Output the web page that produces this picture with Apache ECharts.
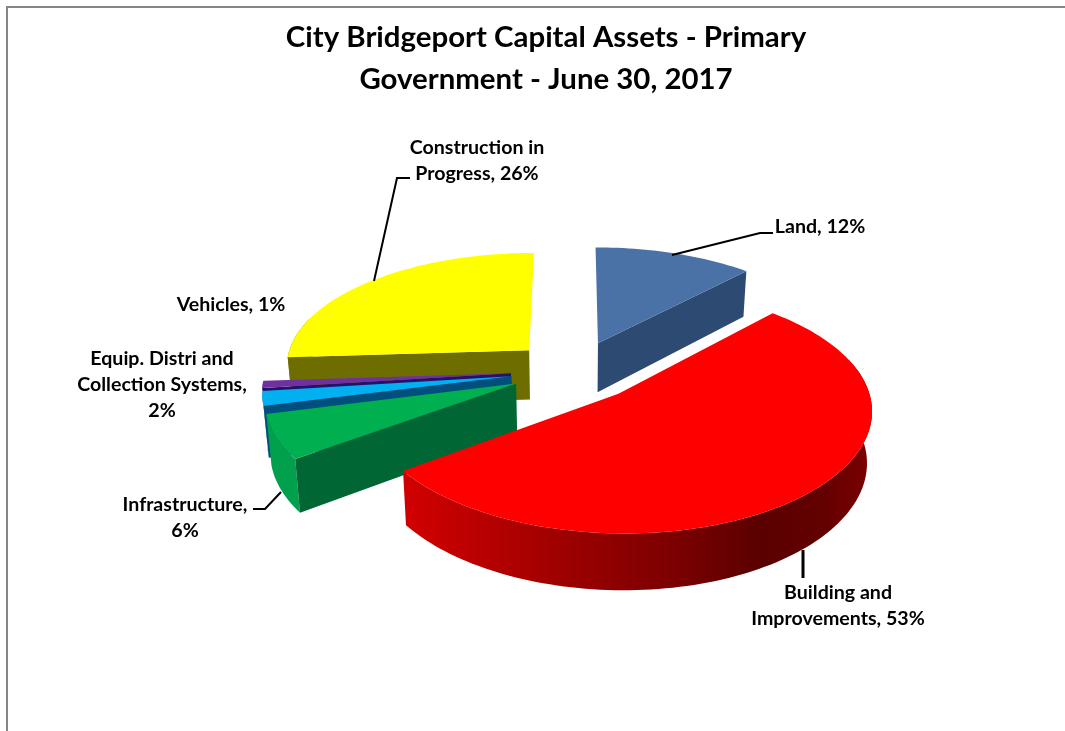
<!DOCTYPE html>
<html>
<head>
<meta charset="utf-8">
<style>html,body{margin:0;padding:0;background:#fff;overflow:hidden}#c{width:1065px;height:731px}</style>
<script src="https://cdn.jsdelivr.net/npm/echarts@6/dist/echarts.min.js"></script>
</head>
<body>
<div id="c"></div>
<script>
// ---- data ----
var categories = ['Land', 'Building and Improvements', 'Infrastructure', 'Equip. Distri and Collection Systems', 'Vehicles', 'Construction in Progress'];
var values = [12, 53, 6, 2, 1, 26];
var topColors = ['#4a72a6', '#ff0000', '#00b050', '#00b0f0', '#7030a0', '#ffff00'];
var faceColors = ['#2d4a72', '#8b0000', '#006633', '#004f7c', '#25106c', '#6e6e00'];
var wallColors = ['#2d4a72', null, '#00a04c', '#0b5a88', '#25106c', '#8a8a00'];
var labelLines = ['Land, 12%', 'Building and\nImprovements, 53%', 'Infrastructure,\n6%', 'Equip. Distri and\nCollection Systems,\n2%', 'Vehicles, 1%', 'Construction in\nProgress, 26%'];
var titleText = 'City Bridgeport Capital Assets - Primary\nGovernment - June 30, 2017';

// ---- projection of the tilted, exploded pie ----
var cam = {cx: 575, cy: 370.5, rx: 245, ry: 115, kx: 0.12, ky: 0.13, kh: 0.1, height: 50, explode: 0.262, baseShrink: 0.983};
var drawOrder = [0, 5, 4, 3, 2, 1];
var total = values.reduce(function (a, b) { return a + b; }, 0);

function project(X, Y, low) {
  var x = cam.rx * X / (1 - cam.kx * Y), y = cam.ry * Y / (1 - cam.ky * Y);
  if (low) { x *= cam.baseShrink; y += cam.height / (1 - cam.kh * Y); }
  return [cam.cx + x, cam.cy + y];
}
function rad(d) { return d * Math.PI / 180; }
function rimPoint(t, ox, oy, low) {
  return project(ox + Math.sin(rad(t)), oy - Math.cos(rad(t)), low);
}
function sliceShapes(i) {
  var start = 0;
  for (var j = 0; j < i; j++) start += values[j] / total * 360;
  var end = start + values[i] / total * 360, mid = (start + end) / 2;
  var ox = cam.explode * Math.sin(rad(mid)), oy = -cam.explode * Math.cos(rad(mid));
  var apexTop = project(ox, oy, false), apexLow = project(ox, oy, true);
  var rimTop = [], rimLow = [], wallTop = [], wallLow = [];
  var steps = Math.max(4, Math.ceil((end - start) / 1.5));
  for (var s = 0; s <= steps; s++) {
    var t = start + (end - start) * s / steps;
    var a = rimPoint(t, ox, oy, false), b = rimPoint(t, ox, oy, true);
    rimTop.push(a); rimLow.push(b);
    // the outer wall only shows on the side of the rim that faces the viewer
    if (Math.cos(rad(t)) < 0.3) { wallTop.push(a); wallLow.push(b); }
  }
  var children = [];
  var wallFill = wallColors[i] || new echarts.graphic.LinearGradient(402, 0, 870, 0, [
    {offset: 0, color: '#d20000'}, {offset: 0.33, color: '#a00000'}, {offset: 0.58, color: '#7c0000'},
    {offset: 0.77, color: '#5a0000'}, {offset: 0.9, color: '#640000'}, {offset: 1, color: '#7a0000'}
  ], true);
  if (wallTop.length > 1) {
    children.push({type: 'polygon', shape: {points: wallTop.concat(wallLow.reverse())}, style: {fill: wallFill}});
  }
  // a cut face is drawn only where it turns towards the viewer
  if (Math.sin(rad(start)) < -0.001) {
    children.push({type: 'polygon', shape: {points: [apexTop, rimTop[0], rimLow[0], apexLow]}, style: {fill: faceColors[i]}});
  }
  if (Math.sin(rad(end)) > 0.001) {
    children.push({type: 'polygon', shape: {points: [apexTop, rimTop[steps], rimLow[steps], apexLow]}, style: {fill: faceColors[i]}});
  }
  children.push({type: 'polygon', shape: {points: [apexTop].concat(rimTop)}, style: {fill: topColors[i]}});
  return {type: 'group', children: children};
}

// ---- label layout ----
var labelFont = {fontFamily: 'Lato', fontWeight: 'bold', fontSize: 19.6, lineHeight: 26, fill: '#000', align: 'center', verticalAlign: 'middle'};
var labelPos = [[820, 227], [838, 606], [185, 518], [162, 385], [231, 305], [477, 161]];
var leaders = [
  {w: 2, pts: [[672, 255], [760, 233], [773, 233]]},
  {w: 3, pts: [[803, 550], [803, 578]]},
  {w: 2, pts: [[253, 509], [265, 509], [281, 492]]},
  {w: 2, pts: [[374, 281], [397, 178], [410, 178]]}
];
var graphics = [{type: 'rect', shape: {x: 7, y: 7, width: 1200, height: 900}, style: {fill: '#fff', stroke: '#868686', lineWidth: 2}, z: -10}];
leaders.forEach(function (l) {
  graphics.push({type: 'polyline', shape: {points: l.pts}, style: {stroke: '#000', lineWidth: l.w, fill: null}, z: 5});
});
labelLines.forEach(function (txt, i) {
  graphics.push({type: 'text', x: labelPos[i][0], y: labelPos[i][1], z: 6, style: Object.assign({text: txt}, labelFont)});
});

var chart = echarts.init(document.getElementById('c'), null, {renderer: 'canvas'});
chart.setOption({
  animation: false,
  backgroundColor: '#fff',
  title: {
    text: titleText, left: 546, top: 17, padding: 0, textAlign: 'center',
    textStyle: {fontFamily: 'Lato', fontWeight: 'bold', fontSize: 29.4, lineHeight: 42, color: '#000'}
  },
  graphic: {elements: graphics},
  series: [{
    type: 'custom', coordinateSystem: 'none', silent: true,
    data: drawOrder.map(function (i) { return {value: values[i], name: categories[i]}; }),
    renderItem: function (params) { return sliceShapes(drawOrder[params.dataIndex]); }
  }]
});
</script>
</body>
</html>
